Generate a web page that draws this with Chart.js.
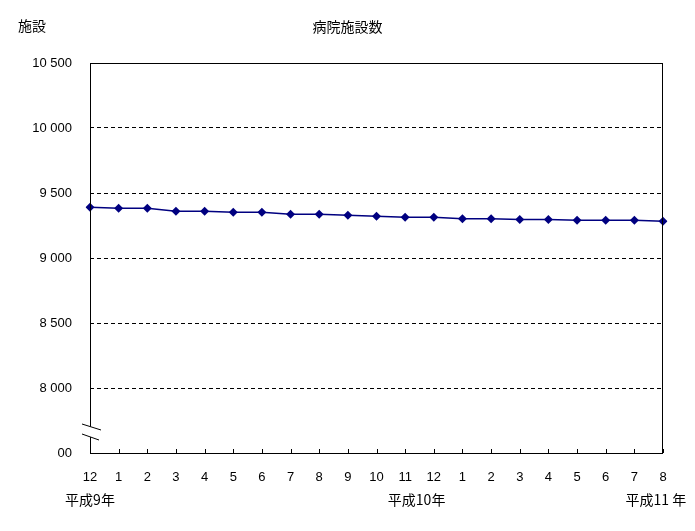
<!DOCTYPE html>
<html>
<head>
<meta charset="utf-8">
<script src="https://cdn.jsdelivr.net/npm/chart.js@4/dist/chart.umd.min.js"></script>
<style>
  html, body { margin: 0; padding: 0; background: #fff; }
  #wrap { width: 695px; height: 531px; }
</style>
</head>
<body>
<div id="wrap"><canvas id="hospitalChart"></canvas></div>
<script>
// months from 平成9年12月 to 平成11年8月
const months = ['12', '1', '2', '3', '4', '5', '6', '7', '8', '9', '10', '11',
                '12', '1', '2', '3', '4', '5', '6', '7', '8'];
const hospitals = [9390, 9382, 9382, 9359, 9359, 9351, 9351, 9336, 9336, 9328, 9321,
                   9313, 9313, 9302, 9302, 9297, 9297, 9290, 9290, 9290, 9282];
const yearLabels = ['平成9年', '平成10年', '平成11 年'];
const yearLabelAt = [0, 11.4, 19.75];
const chartTitle = '病院施設数';
const yTitle = '施設';

const NAVY = '#000080';
const CJK = '"Noto Sans CJK JP", sans-serif';
const NUM = '"Liberation Sans", Arial, sans-serif';

function fmt(v) {
    return String(v).replace(/\B(?=(\d{3})+(?!\d))/g, ' ');
}

// frame, inward ticks, year labels, axis break
const decorations = {
    id: 'decorations',
    afterDraw(chart) {
        const { ctx, chartArea: a, scales } = chart;
        const x = scales.x, y = scales.y;
        ctx.save();

        ctx.strokeStyle = '#000';
        ctx.lineWidth = 1;
        ctx.strokeRect(a.left + 0.5, a.top + 0.5, a.right - a.left - 1, a.bottom - a.top);

        ctx.beginPath();
        months.forEach((m, i) => {
            const px = Math.round(x.getPixelForValue(i)) + 0.5;
            ctx.moveTo(px, a.bottom);
            ctx.lineTo(px, a.bottom - 4);
        });
        ctx.stroke();

        ctx.fillStyle = '#000';
        ctx.font = '14px ' + CJK;
        ctx.textAlign = 'center';
        ctx.textBaseline = 'middle';
        yearLabels.forEach((t, i) => {
            ctx.fillText(t, x.getPixelForValue(yearLabelAt[i]), a.bottom + 47);
        });

        ctx.textAlign = 'left';
        ctx.fillText(yTitle, 18, 26);
        ctx.textAlign = 'center';
        ctx.fillText(chartTitle, chart.width / 2, 27);

        // hide "7 5" of the bottom label behind the break
        const yb = y.getPixelForValue(y.min);
        ctx.fillStyle = '#fff';
        ctx.fillRect(20, yb - 10, 37, 20);

        // axis break
        const b1 = a.bottom - 29, b2 = a.bottom - 19;
        ctx.beginPath();
        ctx.moveTo(82, b1); ctx.lineTo(101, b1 + 6);
        ctx.lineTo(99, b2 + 6); ctx.lineTo(82, b2);
        ctx.closePath();
        ctx.fill();
        ctx.beginPath();
        ctx.moveTo(82, b1); ctx.lineTo(101, b1 + 6);
        ctx.moveTo(82, b2); ctx.lineTo(99, b2 + 6);
        ctx.stroke();
        ctx.restore();
    }
};

const ctx = document.getElementById('hospitalChart').getContext('2d');
new Chart(ctx, {
    type: 'line',
    data: {
        labels: months,
        datasets: [{
            label: chartTitle,
            data: hospitals,
            borderColor: NAVY,
            backgroundColor: NAVY,
            borderWidth: 1.5,
            pointStyle: 'rectRot',
            pointRadius: 4.5,
            pointBorderWidth: 0,
            tension: 0
        }]
    },
    options: {
        responsive: true,
        maintainAspectRatio: false,
        animation: false,
        layout: { padding: { left: 0, right: 32, top: 63, bottom: 0 } },
        plugins: {
            legend: { display: false },
            title: { display: false },
            tooltip: { enabled: false }
        },
        scales: {
            x: {
                offset: false,
                grid: { display: false, drawTicks: false },
                border: { display: false },
                ticks: {
                    color: '#000',
                    font: { family: NUM, size: 13 },
                    padding: 17,
                    maxRotation: 0,
                    autoSkip: false
                },
                afterFit(scale) { scale.height = 78; }
            },
            y: {
                min: 7500,
                max: 10500,
                grid: { color: '#000', lineWidth: 1, drawTicks: false },
                border: { display: false, dash: [4, 3] },
                ticks: {
                    stepSize: 500,
                    color: '#000',
                    font: { family: NUM, size: 13 },
                    padding: 18,
                    callback: v => fmt(v)
                },
                afterFit(scale) { scale.width = 90; }
            }
        }
    },
    plugins: [decorations]
});
</script>
</body>
</html>
